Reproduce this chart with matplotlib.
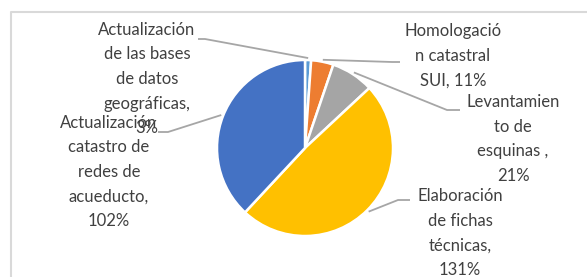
import numpy as np
import matplotlib.pyplot as plt
from matplotlib.lines import Line2D

# slice values (percent labels as shown in the chart)
values = [3, 11, 21, 131, 102]
label_fmt = [
    "Actualización\nde las bases\nde datos\ngeográficas,\n{}%",
    "Homologació\nn catastral\nSUI, {}%",
    "Levantamien\nto de\nesquinas ,\n{}%",
    "Elaboración\nde fichas\ntécnicas,\n{}%",
    "Actualización\ncatastro de\nredes de\nacueducto,\n{}%",
]
colors = ["#5B9BD5", "#ED7D31", "#A5A5A5", "#FFC000", "#4472C4"]

W, H = 587, 277
# layout in pixels (y measured from top)
cx, cy, r = 305, 148, 88
text_pos = [(147, 79), (453, 56), (513, 139), (460, 233), (109, 172)]
elbows = [((198, 39), (205, 39)), ((400, 62), (392, 62)),
          ((460, 110), (447, 110)), ((410, 200), (398, 200)),
          ((158, 132), (168, 132))]

fig = plt.figure(figsize=(W / 100, H / 100), dpi=100)
ax = fig.add_axes([0, 0, 1, 1])

wedges, _ = ax.pie(values, colors=colors, startangle=90, counterclock=False,
                   center=(cx, H - cy), radius=r,
                   wedgeprops=dict(edgecolor="white", linewidth=1.8))
ax.set_xlim(0, W)
ax.set_ylim(0, H)
ax.set_aspect("equal", adjustable="datalim")
ax.axis("off")

# chart border (cut off on right and bottom)
ax.add_line(Line2D([11, 11, W + 5], [-5, H - 12, H - 12],
                   color="#D9D9D9", lw=1.5, clip_on=False))

leader_col = "#A6A6A6"
for w, fmt, v, (tx, ty), (p0, p1) in zip(wedges, label_fmt, values, text_pos, elbows):
    mid = np.deg2rad((w.theta1 + w.theta2) / 2)
    ax_pt = (cx + (r + 2) * np.cos(mid), H - (cy - (r + 2) * np.sin(mid)))
    ax.plot([p0[0], p1[0], ax_pt[0]], [H - p0[1], H - p1[1], ax_pt[1]],
            color=leader_col, lw=1.3, solid_capstyle="butt")
    ax.text(tx, H - ty, fmt.format(v), ha="center", va="center",
            family="Lato", fontsize=12, color="#404040",
            linespacing=1.66)

# clipped title fragment at the very top
ax.text(147, H + 8, "y", ha="center", va="baseline", family="Lato",
        fontsize=11, color="black", clip_on=False)

fig.savefig("out.png", dpi=100)
